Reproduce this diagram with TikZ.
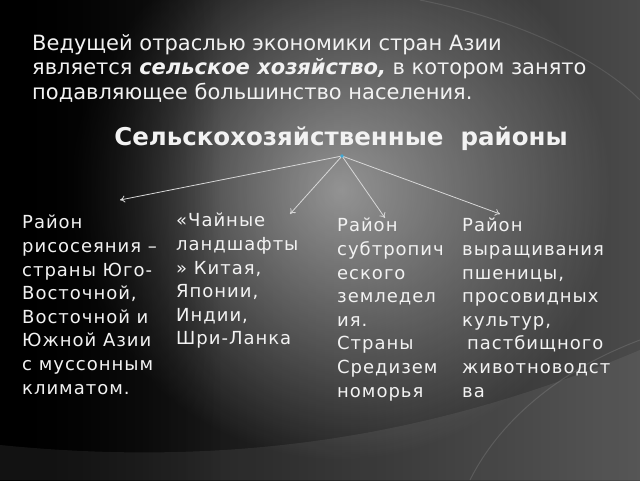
\documentclass[tikz,border=0pt]{standalone}
\usepackage{fontspec}
\setmainfont{DejaVu Sans}
\newfontfamily\bodyfont[LetterSpace=5.5]{DejaVu Sans}
\usetikzlibrary{arrows.meta,fadings}
\definecolor{txt}{HTML}{F2F2F2}
\definecolor{arr}{HTML}{D8D8D8}
\definecolor{hubc}{HTML}{3FA9D6}
\tikzfading[name=glowfade, inner color=transparent!0, outer color=transparent!100]
\tikzset{
  body/.style={anchor=north west, inner sep=0pt, align=left, text=txt, font=\bodyfont\fontsize{18}{23.6}\selectfont},
  intro/.style={anchor=north west, inner sep=0pt, align=left, text=txt, font=\fontsize{21}{24.5}\selectfont},
  heading/.style={anchor=base, inner sep=0pt, text=txt, font=\fontsize{24.5}{28}\selectfont\bfseries},
  link/.style={draw=arr, line width=0.8pt, -{To[length=5pt,width=7pt]}},
}
\begin{document}
\begin{tikzpicture}[x=1pt,y=-1pt]
\useasboundingbox (0,0) rectangle (640,480);
% background
\shade[left color=black, right color=black!71] (0,0) rectangle (640,480);
\fill[white, opacity=0.5, path fading=glowfade] (340,190) circle (270);
\fill[black, opacity=0.9, path fading=east] (0,0) rectangle (220,480);
\fill[white, opacity=0.07] (0,480) -- (0,445) .. controls (250,470) and (450,430) .. (640,350) -- (640,480) -- cycle;
\draw[white, opacity=0.12, line width=1pt] (470,480) .. controls (500,420) and (560,370) .. (640,340);
\draw[white, opacity=0.10, line width=1pt] (420,0) .. controls (520,20) and (600,60) .. (640,100);
% texts
\node[intro] (lead) at (32,34) {Ведущей отраслью экономики стран Азии\\является \textbf{\textit{сельское хозяйство,}} в котором занято\\подавляющее большинство населения.};
\node[heading] (head) at (341,145) {Сельскохозяйственные\ \ районы};
\node[body] (rice) at (22,215) {Район\\рисосеяния –\\страны Юго-\\Восточной,\\Восточной и\\Южной Азии\\с муссонным\\климатом.};
\node[body] (tea) at (176,213) {«Чайные\\ландшафты\\» Китая,\\Японии,\\Индии,\\Шри-Ланка};
\node[body] (sub) at (337,218) {Район\\субтропич\\еского\\земледел\\ия.\\Страны\\Средизем\\номорья};
\node[body] (wheat) at (462,218) {Район\\выращивания\\пшеницы,\\просовидных\\культур,\\\hspace*{5pt}пастбищного\\животноводст\\ва};
% connectors
\coordinate (hub) at (342,156);
\coordinate (t1) at (120,200);
\coordinate (t2) at (290,214);
\coordinate (t3) at (385,218);
\coordinate (t4) at (500,214);
\draw[link] (hub) -- (t1);
\draw[link] (hub) -- (t2);
\draw[link] (hub) -- (t3);
\draw[link] (hub) -- (t4);
\fill[hubc] (hub) circle (1.8);
\end{tikzpicture}
\end{document}
